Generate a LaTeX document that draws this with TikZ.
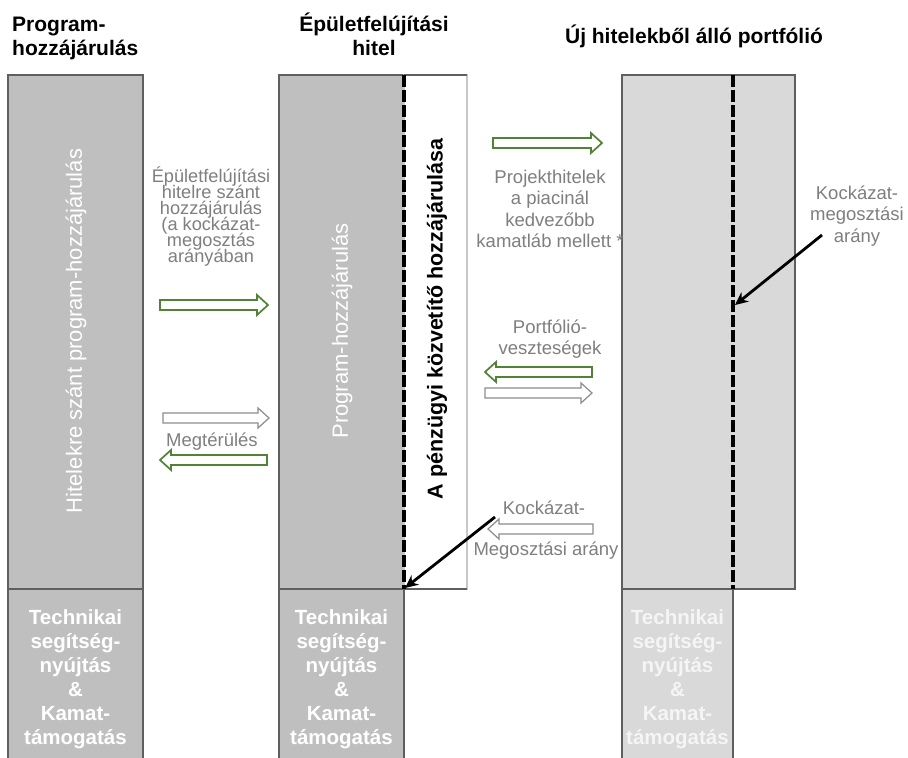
\documentclass[tikz,border=0pt]{standalone}
\usepackage{fontspec}
\setmainfont{Liberation Sans}
\usetikzlibrary{arrows.meta}
\definecolor{boxdark}{HTML}{BFBFBF}
\definecolor{boxlight}{HTML}{D9D9D9}
\definecolor{edgegray}{HTML}{5F5F5F}
\definecolor{paleedge}{HTML}{C8C8C8}
\definecolor{txtgray}{HTML}{7F7F7F}
\definecolor{arrgreen}{HTML}{538135}
\definecolor{arrgray}{HTML}{8C8C8C}
\definecolor{offwhite}{HTML}{F5F5F5}
\newcommand{\blockright}[4]{\draw[#1] (#2,#4-5) -- (#3-11,#4-5) -- (#3-11,#4-10) -- (#3,#4) -- (#3-11,#4+10) -- (#3-11,#4+5) -- (#2,#4+5) -- cycle;}
\newcommand{\blockleft}[4]{\draw[#1] (#3,#4-5) -- (#2+11,#4-5) -- (#2+11,#4-10) -- (#2,#4) -- (#2+11,#4+10) -- (#2+11,#4+5) -- (#3,#4+5) -- cycle;}
\begin{document}
\begin{tikzpicture}[x=1pt,y=-1pt,
  title/.style={font=\fontsize{21}{24}\selectfont\bfseries, inner sep=0pt},
  graytext/.style={text=txtgray, font=\fontsize{18.5}{21.5}\selectfont, align=center, inner sep=0pt},
  tighttext/.style={text=txtgray, font={\fontsize{18.2}{16}\selectfont\lineskiplimit=-50pt\relax}, align=center, inner sep=0pt},
  whiterot/.style={text=white, font=\fontsize{22}{26}\selectfont, rotate=90, inner sep=0pt},
  boldrot/.style={text=black, font=\fontsize{21.5}{26}\selectfont\bfseries, rotate=90, inner sep=0pt},
  lowtext/.style={text=white, font=\fontsize{20.5}{24}\selectfont\bfseries, align=center, inner sep=0pt},
  boxd/.style={fill=boxdark, draw=edgegray, line width=1.2pt},
  boxl/.style={fill=boxlight, draw=edgegray, line width=1.2pt},
  edgeline/.style={draw=edgegray, line width=1.2pt},
  divider/.style={line width=3.4pt, dash pattern=on 12pt off 3pt},
  pointer/.style={line width=2.8pt, -{Stealth[length=13pt,width=12pt]}},
  greenarr/.style={draw=arrgreen, line width=1.7pt, fill=white},
  grayarr/.style={draw=arrgray, line width=1.2pt, fill=white}]
\useasboundingbox (0,0) rectangle (908,758);
\fill[white] (0,0) rectangle (908,758);

% titles
\node[title, align=left, anchor=west] (t1) at (12,38.5) {Program-\\hozzájárulás};
\node[title, align=center] (t2) at (374,34.5) {Épületfelújítási\\hitel};
\node[title] (t3) at (694,36) {Új hitelekből álló portfólió};

% left column
\draw[boxd] (8,75) rectangle (143,589);
\fill[boxdark] (8,589) rectangle (143,762);
\draw[edgeline] (8,762) -- (8,589) -- (143,589) -- (143,762);

% middle column
\draw[boxd] (279,75) rectangle (404,589);
\draw[draw=paleedge, fill=white, line width=1.2pt] (404,75) rectangle (467,589);
\draw[edgeline] (404,75) -- (467,75);
\draw[edgeline] (404,589) -- (467,589);
\fill[boxdark] (279,589) rectangle (404,762);
\draw[edgeline] (279,762) -- (279,589) -- (404,589) -- (404,762);
\draw[divider] (404,75) -- (404,589);

% right column
\draw[boxl] (622,75) rectangle (795,589);
\fill[boxlight] (622,589) rectangle (733,762);
\draw[edgeline] (622,762) -- (622,589) -- (733,589) -- (733,762);
\draw[divider] (733,75) -- (733,589);

% texts inside boxes
\node[whiterot] (rl) at (76,331) {Hitelekre szánt program-hozzájárulás};
\node[whiterot] (rm) at (342,331) {Program-hozzájárulás};
\node[boldrot] (rb) at (437,319) {A pénzügyi közvetítő hozzájárulása};
\node[lowtext] (l1) at (75.5,679) {Technikai\\segítség-\\nyújtás\\\&\\Kamat-\\támogatás};
\node[lowtext] (l2) at (341.5,679) {Technikai\\segítség-\\nyújtás\\\&\\Kamat-\\támogatás};
\node[lowtext, text=offwhite] (l3) at (677.5,679) {Technikai\\segítség-\\nyújtás\\\&\\Kamat-\\támogatás};

% left flows
\node[tighttext] (g1) at (211,216) {Épületfelújítási\\hitelre szánt\\hozzájárulás\\(a kockázat-\\megosztás\\arányában};
\blockright{greenarr}{160}{268}{305}
\blockright{grayarr}{163}{269}{418}
\node[graytext] (g2) at (212,442) {Megtérülés};
\blockleft{greenarr}{160}{267}{460}

% right flows
\blockright{greenarr}{493}{602}{143}
\node[graytext] (g3) at (550,209) {Projekthitelek\\a piacinál\\kedvezőbb\\kamatláb mellett *};
\node[graytext] (g4) at (550,339) {Portfólió-\\veszteségek};
\blockleft{greenarr}{485}{592}{372}
\blockright{grayarr}{485}{592}{393}
\node[graytext] (g5) at (544,508) {Kockázat-};
\blockleft{grayarr}{488}{593}{529}
\node[graytext] (g6) at (546,551) {Megosztási arány};
\node[graytext] (g7) at (857,216) {Kockázat-\\megosztási\\arány};

% pointers
\coordinate (p1s) at (495,517);
\coordinate (p1e) at (405,588);
\draw[pointer] (p1s) -- (p1e);
\coordinate (p2s) at (822,235);
\coordinate (p2e) at (735,305);
\draw[pointer] (p2s) -- (p2e);
\end{tikzpicture}
\end{document}
